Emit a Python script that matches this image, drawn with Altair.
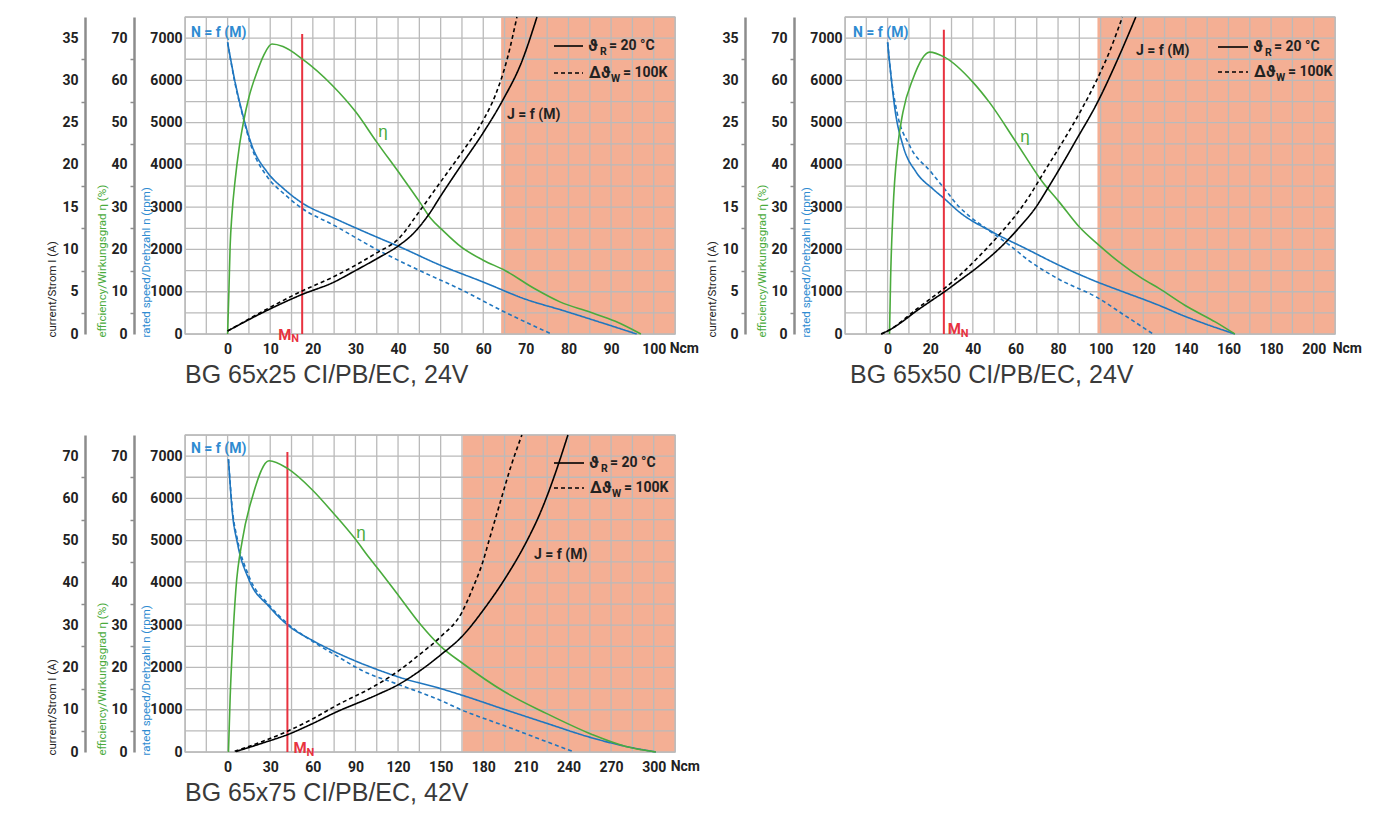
import altair as alt
import pandas as pd

# ---------------- Panel 1 : BG 65x25 CI/PB/EC, 24V ----------------
p1_title = "BG 65x25 CI/PB/EC, 24V"
p1_speed_M = [0, 1.6, 3.4, 5.7, 9.3, 13.2, 17.5, 25, 35, 40, 50, 60, 70, 78.4, 88, 96]
p1_speed_n = [6900, 6035, 5248, 4461, 3830, 3435, 3100, 2740, 2293, 2080, 1624, 1229, 820, 565, 260, 0]
p1_speed_hot_M = [0, 1.6, 3.4, 5.7, 9.3, 13.2, 17.5, 25, 35, 45, 55, 65, 76]
p1_speed_hot_n = [6900, 6000, 5220, 4400, 3720, 3320, 2970, 2570, 2000, 1505, 1040, 520, 0]
p1_cur_M = [0, 8.5, 17.1, 25, 30, 35, 40, 43.8, 47.3, 50.1, 55, 60.1, 64.4, 69.1, 72.6]
p1_cur_I = [0.35, 2.6, 4.6, 6.15, 7.5, 8.9, 10.4, 12.0, 14.2, 16.4, 20.1, 23.9, 27.5, 32.3, 37.5]
p1_cur_hot_M = [0, 8.5, 17.1, 25, 35, 40, 45, 50, 55, 60, 62.8, 65.6, 67.9]
p1_cur_hot_I = [0.35, 2.75, 5.0, 6.8, 9.6, 11.2, 14.5, 18.0, 21.5, 25.3, 28.2, 32.5, 37.5]
p1_eff_M = [0, 0.3, 0.6, 1.0, 1.8, 2.7, 3.7, 5.0, 6.9, 8.5, 10.4, 13, 17.5, 24.6, 30.1, 35,
            40.7, 45.1, 47.7, 50.5, 54.8, 60.1, 65, 72.1, 78, 85, 91, 97]
p1_eff = [0, 10, 21, 28, 36.7, 44, 50, 56, 62, 66, 68.6, 68, 65.1, 58.8, 52.5, 45.4,
          37.5, 31.2, 27.3, 24.5, 20.6, 17.4, 15.1, 10.7, 7.6, 5.2, 3.0, 0]
p1_rated_M = 17.5
p1_limit_M = 64.2
p1_x_labels = [0, 10, 20, 30, 40, 50, 60, 70, 80, 90, 100]
p1_cur_ticks = [0, 2.5, 5, 7.5, 10, 12.5, 15, 17.5, 20, 22.5, 25, 27.5, 30, 32.5, 35]

# ---------------- Panel 2 : BG 65x50 CI/PB/EC, 24V ----------------
p2_title = "BG 65x50 CI/PB/EC, 24V"
p2_speed_M = [0, 1.5, 3.5, 7.2, 13.4, 21.2, 26.7, 33.7, 49.3, 65, 80.6, 98.5, 108.7, 127.4, 139.5, 151, 163]
p2_speed_n = [6900, 6150, 5300, 4461, 3830, 3435, 3199, 2884, 2411, 2017, 1624, 1229, 1033, 678, 420, 205, 0]
p2_speed_hot_M = [0, 1.5, 4.4, 10.3, 20.4, 26.7, 33.7, 38.6, 46.4, 57.4, 66.5, 80.6, 98.5, 111, 124.6]
p2_speed_hot_n = [6900, 6150, 5248, 4461, 3830, 3435, 3002, 2780, 2490, 2097, 1730, 1290, 860, 450, 0]
p2_cur_M = [-3, 2.4, 7.1, 13.4, 19.7, 26.7, 33.7, 42.2, 54, 61.8, 69.6, 75.1, 80.6, 88.4, 98.5, 108.7, 116.5]
p2_cur_I = [0, 0.7, 1.5, 2.7, 3.8, 5.0, 6.3, 7.9, 10.5, 12.6, 15.0, 17.2, 19.5, 22.9, 27.4, 32.9, 37.5]
p2_cur_hot_M = [-3, 2.4, 7.1, 13.4, 19.7, 26.7, 33.7, 42.2, 54, 61.8, 66.5, 72.8, 82.1, 90, 97.7, 104, 110.2]
p2_cur_hot_I = [0, 0.7, 1.6, 2.9, 4.1, 5.4, 6.9, 9.0, 12.2, 14.6, 16.3, 18.9, 22.7, 26.1, 29.8, 33.3, 37.5]
p2_eff_M = [0.9, 1.4, 2.5, 4.8, 7.2, 11.9, 19.7, 26.7, 40, 47.8, 60.3, 72.8, 80.6, 90, 98.5,
            108.7, 119.6, 127.4, 139.5, 154, 163]
p2_eff = [0, 13, 28.8, 44.6, 52.5, 60.4, 66.7, 65.5, 59.6, 54.8, 45.4, 35.9, 31.2, 25.3, 21.3,
          17, 13.1, 10.8, 6.8, 2.8, 0]
p2_rated_M = 26.4
p2_limit_M = 98.5
p2_x_labels = [0, 20, 40, 60, 80, 100, 120, 140, 160, 180, 200]
p2_cur_ticks = p1_cur_ticks

# ---------------- Panel 3 : BG 65x75 CI/PB/EC, 42V ----------------
p3_title = "BG 65x75 CI/PB/EC, 42V"
p3_speed_M = [0.6, 3.4, 6.9, 15.1, 29.2, 42.1, 59.7, 75, 99.6, 120.8, 150, 165.4, 194.7, 224, 256.9, 280.4, 301.5]
p3_speed_n = [6927, 5650, 4941, 4073, 3442, 3009, 2640, 2378, 2024, 1770, 1500, 1340, 1010, 686, 331, 132, 0]
p3_speed_hot_M = [0.6, 3.4, 6.9, 15.1, 29.2, 42.1, 59.7, 75, 96, 120, 150, 165, 180, 195, 224, 244]
p3_speed_hot_n = [6927, 5720, 5030, 4150, 3480, 3040, 2620, 2310, 1905, 1600, 1220, 990, 800, 620, 251, 0]
p3_cur_M = [5.8, 24.5, 42.1, 59.7, 75.5, 105, 120, 134.9, 150.1, 164.9, 181.8, 194.7, 211.1, 219.4, 224.5, 231.1, 239.6]
p3_cur_I = [0.1, 2.1, 4.1, 6.7, 9.3, 13.5, 15.9, 19.1, 23.0, 27.3, 34.4, 40.7, 50.2, 56.0, 60.2, 66.3, 75]
p3_cur_hot_M = [5, 24.5, 42.1, 59.7, 75.5, 105, 120, 134.9, 150.1, 164.9, 172.4, 180, 184.2, 192.4, 199.4, 207.2]
p3_cur_hot_I = [0.15, 2.5, 4.9, 7.8, 10.8, 15.9, 19.1, 23.0, 27.3, 33.0, 38.6, 45.3, 50.2, 59.6, 67.5, 75]
p3_eff_M = [0.6, 1.8, 3.4, 5.8, 10.4, 17.5, 29.2, 42.1, 59.7, 75, 90.3, 99.6, 106.7, 120.8, 136, 150,
            165.4, 194.7, 224, 256.9, 280.4, 301.5]
p3_eff = [0, 13, 25, 38.4, 50.2, 60.4, 68.9, 67.1, 62, 56.3, 50.2, 46.0, 43.0, 36.8, 30.1, 25,
          21, 14.3, 9.2, 4.1, 1.3, 0]
p3_rated_M = 42.1
p3_limit_M = 165.4
p3_x_labels = [0, 30, 60, 90, 120, 150, 180, 210, 240, 270, 300]
p3_cur_ticks = [0, 5, 10, 15, 20, 25, 30, 35, 40, 45, 50, 55, 60, 65, 70]

speed_ticks = [0, 1000, 2000, 3000, 4000, 5000, 6000, 7000]
eff_ticks = [0, 5, 10, 15, 20, 25, 30, 35, 40, 45, 50, 55, 60, 65, 70]

# ---------------- styling ----------------
BLUE = "#1f76bf"
BLUE_TXT = "#2e8bd1"
GREEN = "#4aab3c"
RED = "#e8323f"
SHADE = "#f4af94"
GRID = "#bababa"
AXGRAY = "#8c8c8c"
INK = "#222222"
NARROW = "Roboto, 'Liberation Sans', sans-serif"
CAPTION_FONT = "'Liberation Sans', Arial, sans-serif"
W, H = 490, 317
LBL = 14


def txt(text, x, y, color=INK, size=14, weight="bold", align="left", font=NARROW):
    return alt.Chart(pd.DataFrame({"t": [text]})).mark_text(
        align=align, baseline="middle", font=font, fontSize=size,
        fontWeight=weight, color=color
    ).encode(x=alt.value(x), y=alt.value(y), text="t:N")


def side_axis(offset, values, step, title, color, title_x):
    return alt.Axis(orient="left", offset=offset, values=values,
                    labelExpr=f"datum.value % {step} === 0 ? datum.label : ''",
                    tickSize=4, tickColor=AXGRAY, tickWidth=1.5,
                    tickOpacity={"condition": {"test": f"datum.value % {step} === 0", "value": 0},
                                 "value": 1},
                    domainColor=AXGRAY, domainWidth=2.5, grid=False,
                    labelFont=NARROW, labelFontSize=LBL, labelFontWeight="bold",
                    labelColor=INK, labelPadding=3,
                    title=title, titleColor=color,
                    titleFont=NARROW, titleFontSize=11.5, titleFontWeight="normal",
                    titleX=title_x, titleY=H + 3, titleAlign="left", titleBaseline="bottom",
                    titleAngle=270)


def panel(cfg):
    xdom = cfg["xdom"]
    xs = alt.Scale(domain=xdom, nice=False, zero=False)
    xaxis = alt.Axis(values=cfg["xlabels"], title=None, grid=False, ticks=False, domain=False,
                     labelFont=NARROW, labelFontSize=LBL, labelFontWeight="bold",
                     labelColor=INK, labelPadding=8)

    def X(f):
        return alt.X(f"{f}:Q", scale=xs, axis=xaxis)

    ys = alt.Scale(domain=[0, 7500], nice=False, zero=False)
    yaxis = alt.Axis(orient="left", values=speed_ticks, format="d", grid=False, ticks=False,
                     domain=False, labelFont=NARROW, labelFontSize=LBL, labelFontWeight="bold",
                     labelColor=INK, labelPadding=3,
                     title="rated speed/Drehzahl n (rpm)", titleColor=BLUE_TXT,
                     titleFont=NARROW, titleFontSize=11.5, titleFontWeight="normal",
                     titleX=-34, titleY=H + 3, titleAlign="left", titleBaseline="bottom",
                     titleAngle=270)

    def Y(f):
        return alt.Y(f"{f}:Q", scale=ys, axis=yaxis)

    dash = alt.StrokeDash("kind:N", scale=alt.Scale(domain=["solid", "dashed"],
                                                    range=[[1, 0], [4, 3]]), legend=None)

    shade = alt.Chart(pd.DataFrame({"a": [cfg["limit"]], "b": [xdom[1]]})).mark_rect(
        color=SHADE).encode(x=X("a"), x2="b")
    step = cfg["gridstep"]
    vvals = [xdom[0] + i * step for i in range(int(round((xdom[1] - xdom[0]) / step)) + 1)]
    vgrid = alt.Chart(pd.DataFrame({"g": vvals})).mark_rule(
        color=GRID, strokeWidth=1.3).encode(x=X("g"))
    hgrid = alt.Chart(pd.DataFrame({"g": list(range(0, 7501, 500))})).mark_rule(
        color=GRID, strokeWidth=1.3).encode(y=Y("g"))

    sp = pd.concat([
        pd.DataFrame({"M": cfg["speed_M"], "n": cfg["speed_n"], "kind": "solid"}),
        pd.DataFrame({"M": cfg["speed_hot_M"], "n": cfg["speed_hot_n"], "kind": "dashed"}),
    ])
    speed = alt.Chart(sp).mark_line(color=BLUE, strokeWidth=1.6, interpolate="monotone").encode(
        x=X("M"), y=Y("n"), strokeDash=dash)

    red = alt.Chart(pd.DataFrame({"M": [cfg["rated"]], "n0": [0], "n1": [cfg["rated_top"]]})).mark_rule(
        color=RED, strokeWidth=2).encode(x=X("M"), y=Y("n0"), y2="n1")
    base0 = pd.DataFrame({"M": [cfg["rated"]], "n0": [0]})
    mn_m = alt.Chart(base0).mark_text(text="M", align="left", baseline="middle", font=NARROW,
                                      fontSize=15, fontWeight="bold", color=RED,
                                      dx=cfg["mn"][0], dy=cfg["mn"][1]).encode(x=X("M"), y=Y("n0"))
    mn_n = alt.Chart(base0).mark_text(text="N", align="left", baseline="middle", font=NARROW,
                                      fontSize=11, fontWeight="bold", color=RED,
                                      dx=cfg["mn"][2], dy=cfg["mn"][3]).encode(x=X("M"), y=Y("n0"))
    ncm = alt.Chart(pd.DataFrame({"M": [cfg["xlabels"][-1]], "n0": [0]})).mark_text(
        text="Ncm", align="left", baseline="top", font=NARROW, fontSize=LBL, fontWeight="bold",
        color=INK, dx=cfg["ncm_dx"], dy=8).encode(x=X("M"), y=Y("n0"))

    ax, ay = cfg["nfm"]
    ex, ey = cfg["eta_pos"]
    jx, jy = cfg["jfm"]
    l0, l1, r1, r2 = cfg["legend"]
    legend_solid = alt.Chart(pd.DataFrame({"k": ["solid"]})).mark_rule(
        color="black", strokeWidth=1.6).encode(x=alt.value(l0), x2=alt.value(l1), y=alt.value(r1))
    legend_dash = alt.Chart(pd.DataFrame({"k": ["dashed"]})).mark_rule(
        color="black", strokeWidth=1.6, strokeDash=[4, 3]).encode(
        x=alt.value(l0), x2=alt.value(l1), y=alt.value(r2))
    texts = [
        txt("N = f (M)", ax, ay, color=BLUE_TXT),
        txt("η", ex, ey, color=GREEN, size=17, weight="normal", align="center",
            font="'Liberation Sans', 'DejaVu Sans', sans-serif"),
        txt("J = f (M)", jx, jy),
        txt("ϑ", l1 + 5, r1, size=16),
        txt("R", l1 + 17, r1 + 6, size=10.5),
        txt("= 20 °C", l1 + 26, r1),
        txt("Δϑ", l1 + 6, r2, size=16),
        txt("W", l1 + 28, r2 + 6, size=10.5),
        txt("= 100K", l1 + 40, r2),
    ]

    speed_layer = alt.layer(shade, vgrid, hgrid, speed, red, mn_m, mn_n, ncm,
                            legend_solid, legend_dash, *texts)

    eff = alt.Chart(pd.DataFrame({"M": cfg["eff_M"], "eta": cfg["eff"]})).mark_line(
        color=GREEN, strokeWidth=1.6, interpolate="monotone").encode(
        x=X("M"), y=alt.Y("eta:Q", scale=alt.Scale(domain=[0, 75], nice=False, zero=False),
                          axis=side_axis(51, eff_ticks, 10, "efficiency/Wirkungsgrad η (%)",
                                         GREEN, -27)))

    cmax = cfg["cur_max"]
    cstep = cfg["cur_ticks"][2]
    cd = pd.concat([
        pd.DataFrame({"M": cfg["cur_M"], "I": cfg["cur_I"], "kind": "solid"}),
        pd.DataFrame({"M": cfg["cur_hot_M"], "I": cfg["cur_hot_I"], "kind": "dashed"}),
    ])
    cur = alt.Chart(cd).mark_line(color="black", strokeWidth=1.6, interpolate="monotone").encode(
        x=X("M"), y=alt.Y("I:Q", scale=alt.Scale(domain=[0, cmax], nice=False, zero=False),
                          axis=side_axis(100, cfg["cur_ticks"], cstep, "current/Strom I (A)",
                                         INK, -28)),
        strokeDash=dash)

    return alt.layer(speed_layer, eff, cur).resolve_scale(y="independent").properties(
        width=W, height=H,
        title=alt.TitleParams(cfg["title"], orient="bottom", anchor="start", frame="group",
                              font=CAPTION_FONT, fontSize=25, dx=cfg["cap_dx"],
                              fontWeight="normal", color="#3a3a3a", offset=7, baseline="top"))


p1 = panel(dict(title=p1_title, xdom=[-10, 105], xlabels=p1_x_labels, gridstep=5,
                speed_M=p1_speed_M, speed_n=p1_speed_n, speed_hot_M=p1_speed_hot_M,
                speed_hot_n=p1_speed_hot_n, cur_M=p1_cur_M, cur_I=p1_cur_I,
                cur_hot_M=p1_cur_hot_M, cur_hot_I=p1_cur_hot_I, eff_M=p1_eff_M, eff=p1_eff,
                rated=p1_rated_M, rated_top=7100, limit=p1_limit_M, cur_max=37.5,
                cur_ticks=p1_cur_ticks, mn=(-24, 0.5, -11, 5), ncm_dx=16, cap_dx=0,
                nfm=(6, 16), eta_pos=(198, 115), jfm=(322, 98), legend=(369, 398, 29, 56)))

p2 = panel(dict(title=p2_title, xdom=[-20, 210], xlabels=p2_x_labels, gridstep=10,
                speed_M=p2_speed_M, speed_n=p2_speed_n, speed_hot_M=p2_speed_hot_M,
                speed_hot_n=p2_speed_hot_n, cur_M=p2_cur_M, cur_I=p2_cur_I,
                cur_hot_M=p2_cur_hot_M, cur_hot_I=p2_cur_hot_I, eff_M=p2_eff_M, eff=p2_eff,
                rated=p2_rated_M, rated_top=7200, limit=p2_limit_M, cur_max=37.5,
                cur_ticks=p2_cur_ticks, mn=(4, -5.5, 17, -0.5), ncm_dx=19, cap_dx=5,
                nfm=(8, 16), eta_pos=(180, 120), jfm=(291, 34), legend=(373, 403, 30, 55)))

p3 = panel(dict(title=p3_title, xdom=[-30, 315], xlabels=p3_x_labels, gridstep=15,
                speed_M=p3_speed_M, speed_n=p3_speed_n, speed_hot_M=p3_speed_hot_M,
                speed_hot_n=p3_speed_hot_n, cur_M=p3_cur_M, cur_I=p3_cur_I,
                cur_hot_M=p3_cur_hot_M, cur_hot_I=p3_cur_hot_I, eff_M=p3_eff_M, eff=p3_eff,
                rated=p3_rated_M, rated_top=7100, limit=p3_limit_M, cur_max=75,
                cur_ticks=p3_cur_ticks, mn=(6, -4, 19, 1), ncm_dx=17, cap_dx=0,
                nfm=(6, 14), eta_pos=(176, 98), jfm=(349, 120), legend=(369, 399, 28, 53)))

chart = alt.vconcat(
    alt.hconcat(p1, p2, spacing=5),
    p3,
    spacing=42,
).configure_view(stroke=GRID, strokeWidth=1.3).properties(
    padding={"left": 37, "top": 5, "right": 0, "bottom": 0},
    background="white",
)

chart.save("out.html", embed_options={"renderer": "svg", "actions": False})
